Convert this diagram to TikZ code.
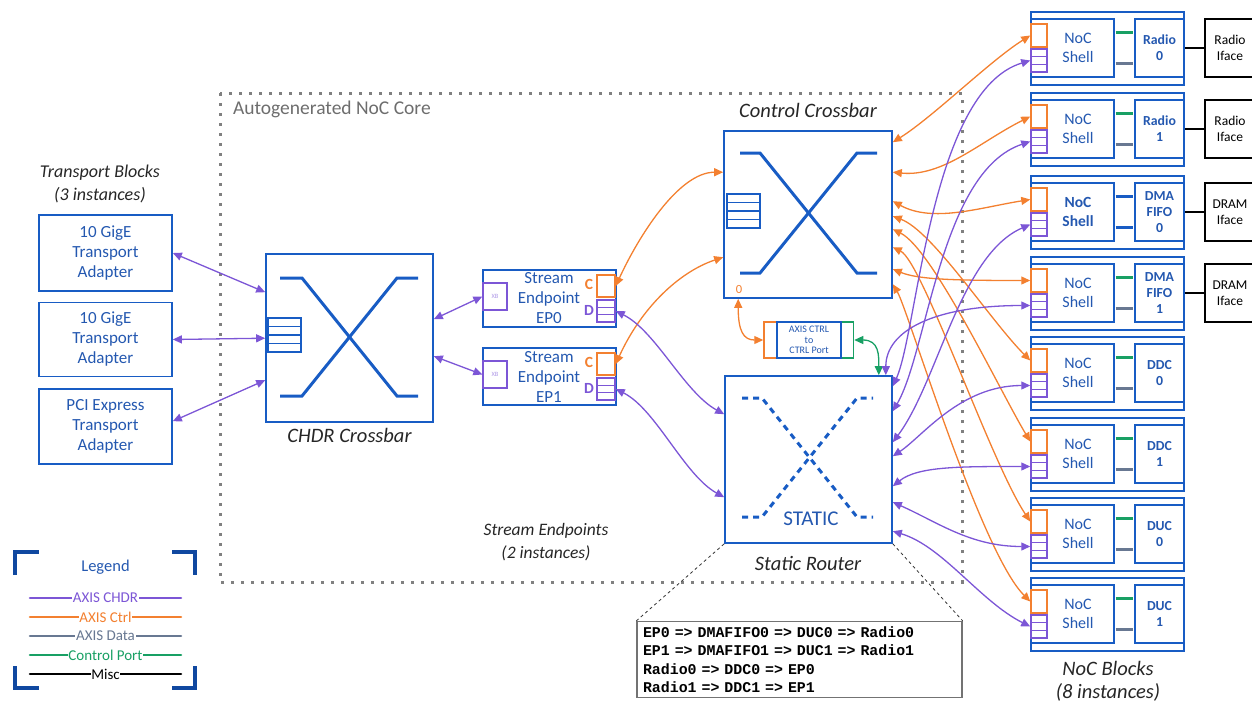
\documentclass[tikz,border=0pt]{standalone}
\usepackage{fontspec}
\setmainfont{Carlito}
\newfontfamily\codefont{Liberation Mono}
\usetikzlibrary{arrows.meta,calc}
\definecolor{bx}{RGB}{24,92,196}
\definecolor{txtb}{RGB}{36,88,176}
\definecolor{pur}{RGB}{124,86,214}
\definecolor{org}{RGB}{243,128,48}
\definecolor{gdat}{RGB}{104,120,146}
\definecolor{grn}{RGB}{24,160,100}
\definecolor{dotg}{RGB}{128,128,128}
\definecolor{legb}{RGB}{16,72,160}
\definecolor{ttl}{RGB}{38,38,38}
\newcommand\fBox{\fontsize{17}{20}\selectfont}
\newcommand\fTitle{\fontsize{18}{23}\selectfont\itshape}
\newcommand\fTitleL{\fontsize{20.5}{23}\selectfont\itshape}
\newcommand\fMod{\fontsize{13.8}{16.2}\selectfont\bfseries}
\newcommand\fShell{\fontsize{16}{19}\selectfont}
\newcommand\fShellB{\fontsize{15.5}{19}\selectfont\bfseries}
\newcommand\fIface{\fontsize{13.5}{16}\selectfont}
\newcommand\fLeg{\fontsize{15}{16}\selectfont}
\tikzset{
 blk/.style={draw=bx, line width=1.6pt, inner sep=0pt, text=txtb, align=center},
 xbar/.style={draw=bx, line width=3pt},
 sxbar/.style={draw=bx, line width=3pt, dash pattern=on 6pt off 5pt},
 fifo/.style={draw=bx, line width=1.3pt},
 conn/.style={line width=1.3pt, {Triangle[length=9pt,width=8pt]}-{Triangle[length=9pt,width=8pt]}},
 chdr/.style={conn, pur},
 ctl/.style={conn, org},
 cport/.style={conn, grn},
 cbox/.style={draw=org, line width=1.5pt, minimum width=16pt, minimum height=23pt, inner sep=0pt},
 dbox/.style={draw=pur, line width=1.5pt, minimum width=16pt, minimum height=23pt, inner sep=0pt},
 title/.style={font=\fTitle, align=center, text=ttl},
 titleL/.style={font=\fTitleL, align=center, text=ttl},
 iface/.style={draw=black, line width=1.5pt, inner sep=0pt, minimum width=50pt, minimum height=58pt, align=center, font=\fIface},
 legline/.style={line width=2.6pt, line cap=round},
 leglabel/.style={fill=white, inner sep=0.6pt, font=\fLeg},
 bracket/.style={draw=legb, line width=4pt},
}
\begin{document}
\begin{tikzpicture}[x=1pt,y=-1pt]
\useasboundingbox (0,0) rectangle (1252,705);
\clip (0,0) rectangle (1252,705);
% NoC core dotted region
\draw[dotg, line width=3pt, dash pattern=on 3pt off 7pt] (220,93) rectangle (962,582);
\node[anchor=west, text=dotg!85!black, font=\fontsize{19.5}{20}\selectfont] (corelbl) at (229.5,109) {Autogenerated NoC Core};

% Transport blocks
\node[title] (ttb) at (100,183.5) {Transport Blocks\\(3 instances)};
\node[blk, minimum width=133pt, minimum height=76pt, font=\fBox] (t1) at (105.5,253) {10 GigE\\Transport\\Adapter};
\node[blk, minimum width=133pt, minimum height=74pt, font=\fBox] (t2) at (105.5,339.5) {10 GigE\\Transport\\Adapter};
\node[blk, minimum width=133pt, minimum height=75pt, font=\fBox] (t3) at (105.5,426.5) {PCI Express\\Transport\\Adapter};

% CHDR crossbar
\node[blk, minimum width=167pt, minimum height=168pt] (chdr) at (349.5,338) {};
\draw[xbar] (280,278) -- (302,278) -- (397,396) -- (418,396);
\draw[xbar] (280,396) -- (302,396) -- (397,278) -- (418,278);
\draw[fifo, fill=white] (268,318) rectangle (301,352);
\foreach \yy in {326.5,335,343.5} \draw[fifo] (268,\yy) -- (301,\yy);
\node[titleL] (chdrlbl) at (349.5,435) {CHDR Crossbar};

% Stream endpoints
\foreach \k/\yc in {0/298.5,1/376.5}{
  \node[blk, minimum width=133pt, minimum height=57pt] (ep\k) at (549.5,\yc) {};
  \node[text=txtb, font=\fBox, align=center] (ept\k) at (549,\yc) {Stream\\Endpoint\\EP\k};
  \node[draw=pur, line width=1.3pt, minimum width=24pt, minimum height=27pt, inner sep=0pt, font=\fontsize{6.5}{6.5}\selectfont, text=pur!60] (xb\k) at (495,\yc-2) {XB};
  \node[draw=org, line width=1.5pt, minimum width=18pt, minimum height=22pt, inner sep=0pt] (c\k) at (606,\yc-12.5) {};
  \node[draw=pur, line width=1.5pt, minimum width=18pt, minimum height=22pt, inner sep=0pt] (d\k) at (606,\yc+12.5) {};
  \draw[pur, line width=1.2pt] (597,\yc+8.83) -- (615,\yc+8.83) (597,\yc+16.17) -- (615,\yc+16.17);
  \node[text=org, font=\fontsize{15.5}{15}\selectfont\bfseries] (cl\k) at (589,\yc-14) {C};
  \node[text=pur, font=\fontsize{15.5}{15}\selectfont\bfseries] (dl\k) at (589,\yc+11.5) {D};
}
\node[font=\fontsize{17.5}{22.5}\selectfont\itshape, text=ttl, align=center] (selbl) at (546,542) {Stream Endpoints\\(2 instances)};

% Control crossbar
\node[blk, minimum width=168pt, minimum height=167pt] (cc) at (808,214.5) {};
\draw[xbar] (740,153) -- (760,153) -- (857,273) -- (877,273);
\draw[xbar] (740,273) -- (760,273) -- (857,153) -- (877,153);
\draw[fifo, fill=white] (727,194) rectangle (760,228);
\foreach \yy in {202.5,211,219.5} \draw[fifo] (727,\yy) -- (760,\yy);
\node[text=org, font=\fontsize{12.5}{12}\selectfont] (cc0lbl) at (739,289) {0};
\node[titleL] (cclbl) at (808,110) {Control Crossbar};

% Static router
\node[blk, minimum width=167pt, minimum height=167pt] (sr) at (808.5,459.5) {};
\draw[sxbar] (742,398) -- (762,398) -- (857,517) -- (873,517);
\draw[sxbar] (742,517) -- (762,517) -- (857,398) -- (873,398);
\node[text=txtb, font=\fontsize{21}{21}\selectfont, fill=white, inner sep=1pt] (stlbl) at (811,519) {STATIC};
\node[titleL] (srlbl) at (808,563) {Static Router};

% AXIS CTRL to CTRL Port
\node[draw=org, line width=1.5pt, minimum width=13pt, minimum height=36pt, inner sep=0pt] (ctrlL) at (770.5,340) {};
\node[draw=grn, line width=1.5pt, minimum width=13pt, minimum height=36pt, inner sep=0pt] (ctrlR) at (847,340) {};
\node[draw=bx, line width=1.5pt, minimum width=64pt, minimum height=36pt, inner sep=0pt, font=\fontsize{10}{10.5}\selectfont, text=txtb, align=center] (ctrl) at (809,340) {AXIS CTRL\\to\\CTRL Port};

% NoC blocks
\foreach \i/\ty/\mtxt/\Fsh/\ga/\gb in {0/12/{Radio\\0}/\fShell/grn/gdat,1/93/{Radio\\1}/\fShell/grn/gdat,2/176/{DMA\\FIFO\\0}/\fShellB/bx/bx,3/257/{DMA\\FIFO\\1}/\fShell/grn/gdat,4/337/{DDC\\0}/\fShell/grn/gdat,5/418/{DDC\\1}/\fShell/grn/gdat,6/498/{DUC\\0}/\fShell/grn/gdat,7/578/{DUC\\1}/\fShell/grn/gdat}{
  \node[blk, minimum width=153pt, minimum height=73pt] (nb\i) at (1107.5,\ty+36.5) {};
  \node[blk, minimum width=83pt, minimum height=58pt] (sh\i) at (1072.5,\ty+36) {};
  \node[text=txtb, font=\Fsh, align=center] (sht\i) at (1078,\ty+36) {NoC\\Shell};
  \node[blk, minimum width=49pt, minimum height=58pt, font=\fMod] (m\i) at (1159.5,\ty+36) {\mtxt};
  \draw[draw=\ga, line width=2.8pt] ($(sh\i.north east)+(0.8,14)$) -- ($(m\i.north west)+(-0.8,14)$);
  \draw[draw=\gb, line width=2.8pt] ($(sh\i.north east)+(0.8,45)$) -- ($(m\i.north west)+(-0.8,45)$);
  \node[cbox, fill=white] (nc\i) at (1039,\ty+23.5) {};
  \node[dbox, fill=white] (nd\i) at (1039,\ty+48.5) {};
  \draw[pur, line width=1.2pt] (1031,\ty+44.67) -- (1047,\ty+44.67) (1031,\ty+52.33) -- (1047,\ty+52.33);
}
\foreach \i/\ty/\itxt in {0/12/{Radio\\Iface},1/93/{Radio\\Iface},2/176/{DRAM\\Iface},3/257/{DRAM\\Iface}}{
  \node[iface] (if\i) at (1230,\ty+36) {\itxt};
  \draw[black, line width=2.8pt] (m\i.east) -- (if\i.west);
}
\node[titleL] (nblbl) at (1108,681) {NoC Blocks\\(8 instances)};

% Transport <-> CHDR
\draw[chdr] (t1.east) -- ($(chdr.north west)+(0,39)$);
\draw[chdr] (t2.east) -- ($(chdr.north west)+(0,85)$);
\draw[chdr] ($(t3.north east)+(0,33)$) -- ($(chdr.north west)+(0,127)$);
% CHDR <-> EP
\draw[chdr] ($(chdr.north east)+(0,66)$) -- (xb0.west);
\draw[chdr] ($(chdr.north east)+(0,103)$) -- (xb1.west);
% EP <-> control crossbar / static router
\draw[ctl] (c0.east) .. controls +(22,-48) and +(-45,0) .. ($(cc.north west)+(0,42)$);
\draw[ctl] (c1.east) .. controls +(25,-55) and +(-45,15) .. ($(cc.north west)+(0,127)$);
\draw[chdr] (d0.east) .. controls +(40,20) and +(-40,-22) .. ($(sr.north west)+(0,39)$);
\draw[chdr] (d1.east) .. controls +(40,20) and +(-40,-22) .. ($(sr.north west)+(0,122)$);
% control crossbar port 0 <-> AXIS CTRL; control port <-> static router
\draw[ctl] ($(cc.south west)+(15,0)$) .. controls +(0,32) and +(-20,0) .. (ctrlL.west);
\draw[cport] (ctrlR.east) .. controls +(25,0) and +(0,-20) .. ($(sr.north east)+(-14,0)$);
% control crossbar <-> NoC C ports
\draw[ctl] ($(cc.north east)+(0,12)$) .. controls +(40,-25) and +(-40,25) .. (nc0.west);
\draw[ctl] ($(cc.north east)+(0,42)$) .. controls +(50,5) and +(-50,25) .. (nc1.west);
\draw[ctl] ($(cc.north east)+(0,71)$) .. controls +(40,22) and +(-50,8) .. (nc2.west);
\draw[ctl] ($(cc.north east)+(0,139)$) .. controls +(25,10) and +(-80,0) .. (nc3.west);
\draw[ctl] ($(cc.north east)+(0,86)$) .. controls +(40,15) and +(-40,-40) .. (nc4.west);
\draw[ctl] ($(cc.north east)+(0,99)$) .. controls +(40,20) and +(-30,-50) .. (nc5.west);
\draw[ctl] ($(cc.north east)+(0,117)$) .. controls +(30,15) and +(-40,-60) .. (nc6.west);
\draw[ctl] ($(cc.north east)+(0,154)$) .. controls +(15,25) and +(-50,-50) .. (nc7.west);
% static router <-> NoC D ports
\draw[chdr] ($(sr.north east)+(0,11)$) .. controls +(25,-55) and +(-100,30) .. (nd0.west);
\draw[chdr] ($(sr.north east)+(0,36)$) .. controls +(35,-60) and +(-90,30) .. (nd1.west);
\draw[chdr] ($(sr.north east)+(0,67)$) .. controls +(45,-60) and +(-70,30) .. (nd2.west);
\draw[chdr] ($(sr.north east)+(-7,0)$) .. controls +(0,-45) and +(-95,0) .. (nd3.west);
\draw[chdr] ($(sr.north east)+(0,81)$) .. controls +(30,-20) and +(-70,0) .. (nd4.west);
\draw[chdr] ($(sr.north east)+(0,111)$) .. controls +(25,-20) and +(-70,0) .. (nd5.west);
\draw[chdr] ($(sr.north east)+(0,127)$) .. controls +(45,20) and +(-60,0) .. (nd6.west);
\draw[chdr] ($(sr.north east)+(0,156)$) .. controls +(50,15) and +(-50,-25) .. (nd7.west);

% static route table
\node[draw=black!55, line width=1.3pt, minimum height=76pt, text width=313pt, inner xsep=6pt, inner ysep=0pt, align=left, font=\codefont\fontsize{14.9}{18.4}\selectfont\bfseries] (code) at (799.5,659.5)
{EP0 => DMAFIFO0 => DUC0 => Radio0\\EP1 => DMAFIFO1 => DUC1 => Radio1\\Radio0 => DDC0 => EP0\\Radio1 => DDC1 => EP1};
\draw[black!80, line width=0.8pt, dashed] (sr.south west) -- (code.north west);
\draw[black!80, line width=0.8pt, dashed] (sr.south east) -- (code.north east);

% Legend
\draw[bracket] (15,575) -- (15,552) -- (39,552);
\draw[bracket] (172,552) -- (195,552) -- (195,575);
\draw[bracket] (15,666) -- (15,688) -- (39,688);
\draw[bracket] (172,688) -- (195,688) -- (195,666);
\node[text=txtb, font=\fontsize{16.5}{16}\selectfont] (leglbl) at (105.5,567) {Legend};
\draw[legline, pur] (30,598) -- (181,598);
\node[leglabel, text=pur] (lg1) at (105.5,598) {AXIS CHDR};
\draw[legline, org] (30,617) -- (181,617);
\node[leglabel, text=org] (lg2) at (105.5,617) {AXIS Ctrl};
\draw[legline, gdat] (30,636) -- (181,636);
\node[leglabel, text=gdat] (lg3) at (105.5,636) {AXIS Data};
\draw[legline, grn] (30,655) -- (181,655);
\node[leglabel, text=grn] (lg4) at (105.5,655) {Control Port};
\draw[legline, black] (30,674) -- (181,674);
\node[leglabel, text=black] (lg5) at (105.5,674) {Misc};
\end{tikzpicture}
\end{document}
